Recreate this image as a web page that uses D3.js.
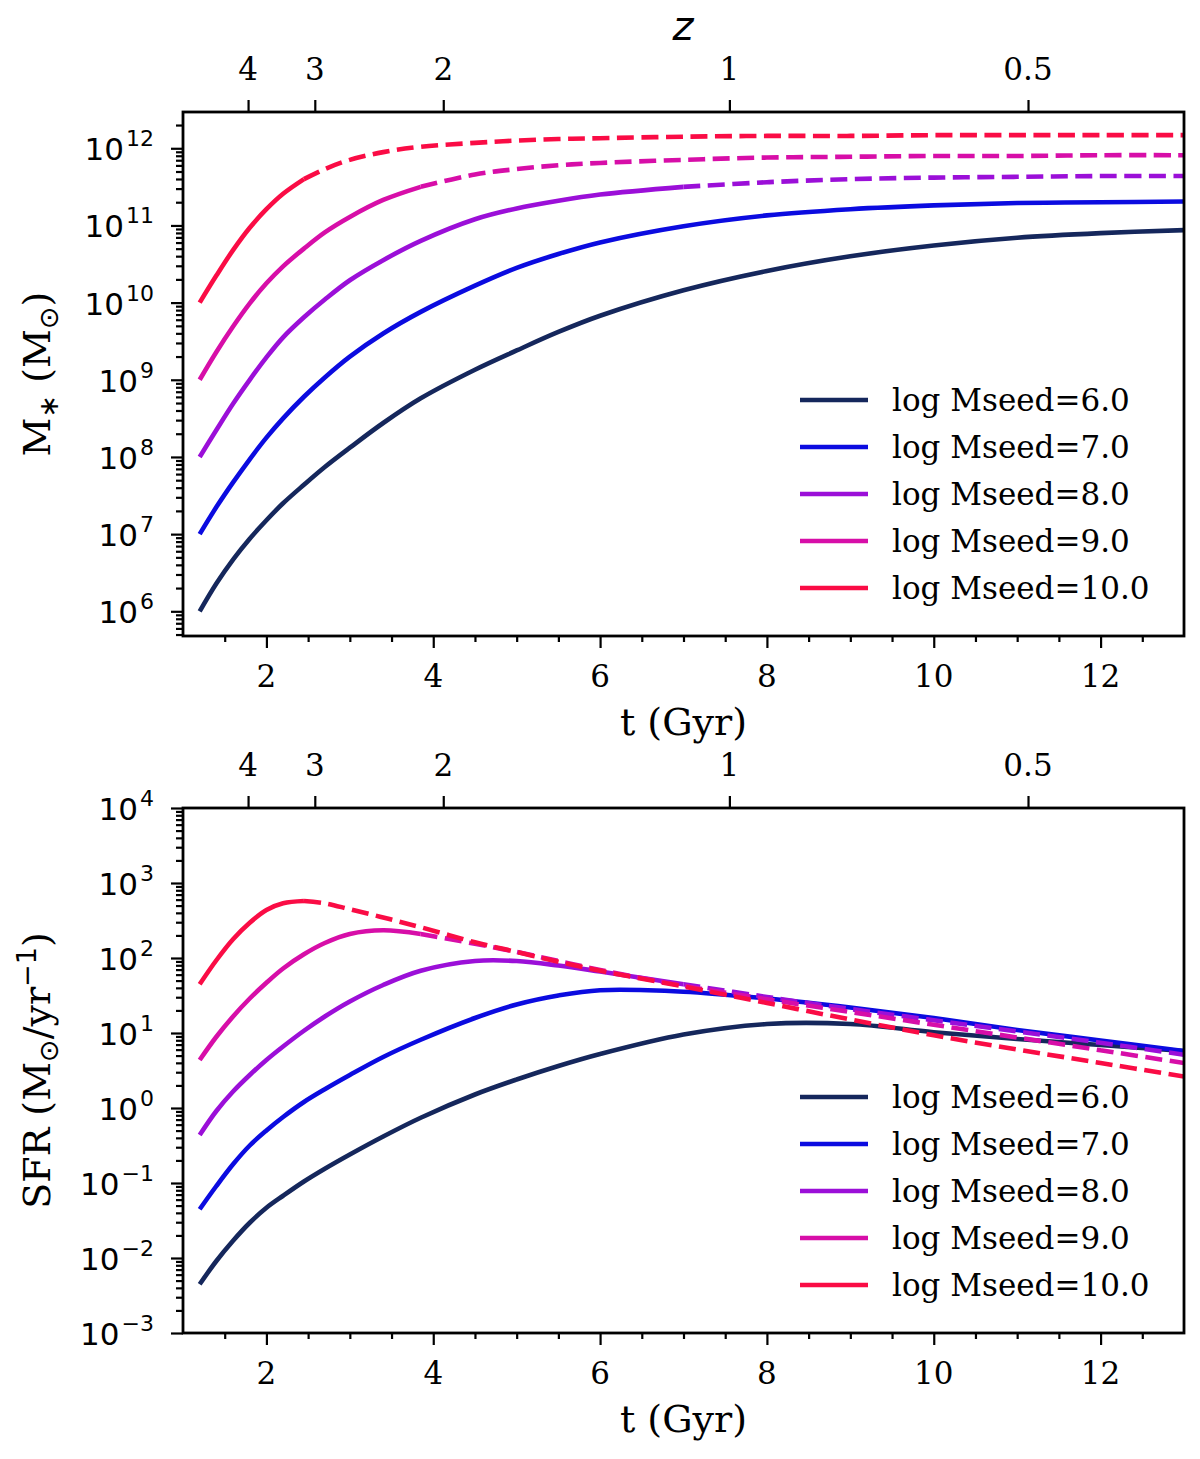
<!DOCTYPE html>
<html>
<head>
<meta charset="utf-8">
<script src="https://cdn.jsdelivr.net/npm/d3@7"></script>
<style>
  body { margin: 0; background: #fff; }
  svg text { font-family: "DejaVu Serif", serif; fill: #000; }
  .math { font-family: "DejaVu Sans", sans-serif; }
</style>
</head>
<body>
<svg id="chart" width="1200" height="1459"></svg>
<script>
"use strict";

// time grid (Gyr) shared by all tracks
const tGrid = [1.2, 1.4, 1.6, 1.8, 2.0, 2.2, 2.45, 2.7, 3.0, 3.4, 3.85, 4.5, 5.0, 5.5, 6.0, 7.0, 8.0, 9.0, 10.0, 11.0, 12.0, 13.0];

// log10 stellar mass for each seed
const mstarSeed6  = [6.0, 6.36, 6.67, 6.94, 7.18, 7.40, 7.64, 7.87, 8.12, 8.44, 8.76, 9.13, 9.38, 9.62, 9.83, 10.16, 10.41, 10.6, 10.74, 10.84, 10.9, 10.94];
const mstarSeed7  = [7.0, 7.35, 7.67, 7.97, 8.25, 8.5, 8.78, 9.03, 9.3, 9.6, 9.88, 10.22, 10.45, 10.63, 10.78, 10.99, 11.13, 11.21, 11.26, 11.29, 11.3, 11.31];
const mstarSeed8  = [8.0, 8.35, 8.69, 9.0, 9.29, 9.55, 9.81, 10.04, 10.29, 10.55, 10.8, 11.08, 11.22, 11.32, 11.4, 11.5, 11.56, 11.6, 11.62, 11.63, 11.64, 11.64];
const mstarSeed9  = [9.0, 9.36, 9.69, 9.99, 10.25, 10.47, 10.7, 10.91, 11.11, 11.33, 11.5, 11.66, 11.73, 11.78, 11.81, 11.85, 11.88, 11.89, 11.9, 11.9, 11.91, 11.91];
const mstarSeed10 = [10.0, 10.35, 10.68, 10.97, 11.21, 11.41, 11.6, 11.73, 11.85, 11.95, 12.02, 12.07, 12.1, 12.12, 12.13, 12.15, 12.16, 12.16, 12.17, 12.17, 12.17, 12.17];

// log10 SFR for each seed
const sfrSeed6  = [-2.35, -2.04, -1.77, -1.53, -1.33, -1.17, -0.98, -0.81, -0.62, -0.38, -0.13, 0.18, 0.38, 0.56, 0.72, 0.98, 1.12, 1.12, 1.01, 0.92, 0.84, 0.76];
const sfrSeed7  = [-1.35, -1.04, -0.75, -0.5, -0.3, -0.12, 0.08, 0.25, 0.44, 0.68, 0.91, 1.2, 1.38, 1.5, 1.57, 1.55, 1.46, 1.34, 1.2, 1.04, 0.9, 0.76];
const sfrSeed8  = [-0.36, -0.04, 0.22, 0.44, 0.64, 0.82, 1.03, 1.22, 1.42, 1.64, 1.83, 1.96, 1.96, 1.9, 1.82, 1.65, 1.48, 1.32, 1.17, 1.02, 0.87, 0.71];
const sfrSeed9  = [0.64, 0.95, 1.22, 1.46, 1.67, 1.86, 2.05, 2.2, 2.32, 2.37, 2.32, 2.19, 2.08, 1.96, 1.84, 1.63, 1.45, 1.28, 1.11, 0.94, 0.77, 0.6];
const sfrSeed10 = [1.65, 1.97, 2.25, 2.47, 2.64, 2.73, 2.76, 2.73, 2.65, 2.54, 2.41, 2.21, 2.08, 1.95, 1.83, 1.62, 1.4, 1.18, 0.97, 0.78, 0.6, 0.42];

const seeds = ["6.0", "7.0", "8.0", "9.0", "10.0"];
// time after which each track is drawn dashed
const dashFrom = [99, 99, 7.0, 3.85, 2.45];
const colors = ["#15275c", "#0b0be0", "#9b0fd8", "#d70ea8", "#fa0c45"];

// redshift ticks on the top axis, and where they sit in t
const zTicks = ["4", "3", "2", "1", "0.5"];
const zTickT = [1.78, 2.58, 4.12, 7.55, 11.13];

const xTicks = [2, 4, 6, 8, 10, 12];
const mstarExp = [6, 7, 8, 9, 10, 11, 12];
const sfrExp = [-3, -2, -1, 0, 1, 2, 3, 4];

const mstarTracks = [mstarSeed6, mstarSeed7, mstarSeed8, mstarSeed9, mstarSeed10];
const sfrTracks = [sfrSeed6, sfrSeed7, sfrSeed8, sfrSeed9, sfrSeed10];

const svg = d3.select("#chart");
const left = 183, right = 1184;

const x = d3.scaleLinear().domain([1, 13]).range([left, right]);

function minorTicks(lo, hi) {
    const out = [];
    for (let k = Math.floor(lo); k <= Math.ceil(hi); k++) {
        for (let m = 2; m <= 9; m++) {
            const v = Math.log10(m) + k;
            if (v > lo && v < hi) out.push(Math.pow(10, v));
        }
    }
    return out;
}

function drawPanel(opt) {
    const top = opt.top, bottom = opt.bottom;
    const y = d3.scaleLog().domain([Math.pow(10, opt.lo), Math.pow(10, opt.hi)]).range([bottom, top]);
    const g = svg.append("g");

    const clipId = "clip" + opt.name;
    svg.append("clipPath").attr("id", clipId)
        .append("rect").attr("x", left).attr("y", top).attr("width", right - left).attr("height", bottom - top);

    // curves, solid then dashed part
    const line = d3.line()
        .x(d => x(d.t))
        .y(d => y(Math.pow(10, d.v)))
        .curve(d3.curveCatmullRom.alpha(0.5));

    const curves = g.append("g").attr("clip-path", "url(#" + clipId + ")");
    opt.tracks.forEach((vals, i) => {
        const pts = tGrid.map((t, j) => ({ t: t, v: vals[j] }));
        const solid = pts.filter(d => d.t <= dashFrom[i]);
        const dashed = pts.filter(d => d.t >= dashFrom[i]);
        curves.append("path").datum(solid)
            .attr("d", line).attr("fill", "none")
            .attr("stroke", colors[i]).attr("stroke-width", 4.6);
        if (dashed.length > 1) {
            curves.append("path").datum(dashed)
                .attr("d", line).attr("fill", "none")
                .attr("stroke", colors[i]).attr("stroke-width", 4.6)
                .attr("stroke-dasharray", "17,7.5");
        }
    });

    // bottom axis
    const xa = g.append("g").attr("transform", "translate(0," + bottom + ")");
    xa.call(d3.axisBottom(x).tickValues(xTicks).tickSize(12).tickSizeOuter(0).tickFormat(""));
    const xMinor = d3.range(1.5, 13, 0.5).filter(v => v % 2 !== 0);
    xa.append("g").call(d3.axisBottom(x).tickValues(xMinor).tickSize(6).tickSizeOuter(0).tickFormat(""));
    g.selectAll(".xlab").data(xTicks).enter().append("text")
        .attr("x", d => x(d)).attr("y", bottom + 51)
        .attr("text-anchor", "middle").style("font-size", "31px")
        .text(d => d);

    // top axis with redshift
    const za = g.append("g").attr("transform", "translate(0," + top + ")");
    za.call(d3.axisTop(x).tickValues(zTickT).tickSize(12).tickSizeOuter(0).tickFormat(""));
    zTicks.forEach((lab, i) => {
        g.append("text").attr("x", x(zTickT[i])).attr("y", top - 32)
            .attr("text-anchor", "middle").style("font-size", "31px").text(lab);
    });

    // left axis (log)
    const ya = g.append("g").attr("transform", "translate(" + left + ",0)");
    ya.call(d3.axisLeft(y).tickValues(opt.exps.map(e => Math.pow(10, e))).tickSize(12).tickSizeOuter(0).tickFormat(""));
    ya.append("g").call(d3.axisLeft(y).tickValues(minorTicks(opt.lo, opt.hi)).tickSize(7).tickSizeOuter(0).tickFormat(""));
    opt.exps.forEach(e => {
        const t = g.append("text").attr("class", "math")
            .attr("x", 154).attr("y", y(Math.pow(10, e)) + 12)
            .attr("text-anchor", "end").style("font-size", "31px");
        t.append("tspan").text("10");
        t.append("tspan").attr("dy", -14).attr("dx", 2).style("font-size", "22px")
            .text(e < 0 ? "\u2212" + (-e) : e);
    });

    g.selectAll(".domain").remove();
    g.selectAll(".tick line").attr("stroke", "#000").attr("stroke-width", 2.2);

    // frame
    g.append("rect").attr("x", left).attr("y", top)
        .attr("width", right - left).attr("height", bottom - top)
        .attr("fill", "none").attr("stroke", "#000").attr("stroke-width", 2.8);

    // x label
    g.append("text").attr("x", (left + right) / 2).attr("y", bottom + 99)
        .attr("text-anchor", "middle").style("font-size", "38px").text("t (Gyr)");

    // y label
    const yl = g.append("text")
        .attr("transform", "translate(50," + (top + bottom) / 2 + ") rotate(-90)")
        .attr("text-anchor", "middle").style("font-size", "38px");
    opt.ylabel(yl);

    // legend
    seeds.forEach((s, i) => {
        const ly = bottom - 236 + i * 47;
        g.append("line").attr("x1", 800).attr("x2", 868).attr("y1", ly).attr("y2", ly)
            .attr("stroke", colors[i]).attr("stroke-width", 4.6);
        g.append("text").attr("x", 892).attr("y", ly + 11)
            .style("font-size", "31px").text("log Mseed=" + s);
    });
}

drawPanel({
    name: "mstar", top: 112, bottom: 636, lo: 5.68, hi: 12.47,
    exps: mstarExp, tracks: mstarTracks,
    ylabel: t => {
        t.append("tspan").text("M");
        t.append("tspan").attr("class", "math").attr("dy", 8).style("font-size", "27px").text("\u2217");
        t.append("tspan").attr("dy", -8).text(" (M");
        t.append("tspan").attr("class", "math").attr("dy", 8).style("font-size", "27px").text("\u2299");
        t.append("tspan").attr("dy", -8).text(")");
    }
});

drawPanel({
    name: "sfr", top: 808, bottom: 1333, lo: -3, hi: 4,
    exps: sfrExp, tracks: sfrTracks,
    ylabel: t => {
        t.append("tspan").text("SFR (M");
        t.append("tspan").attr("class", "math").attr("dy", 8).style("font-size", "27px").text("\u2299");
        t.append("tspan").attr("dy", -8).text("/yr");
        t.append("tspan").attr("class", "math").attr("dy", -14).style("font-size", "27px").text("\u22121");
        t.append("tspan").attr("dy", 14).text(")");
    }
});

// redshift label
svg.append("text").attr("class", "math").attr("x", 683).attr("y", 40)
    .attr("text-anchor", "middle").style("font-size", "40px").style("font-style", "italic")
    .text("z");
</script>
</body>
</html>
